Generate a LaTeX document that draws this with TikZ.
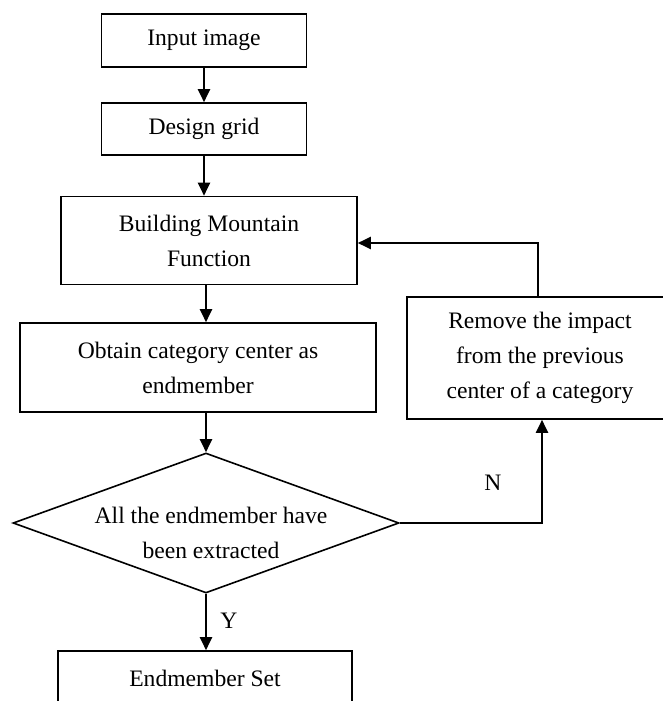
\documentclass[tikz,border=0pt]{standalone}
\usepackage{fontspec}
\setmainfont{Liberation Serif}
\usetikzlibrary{arrows.meta,shapes.geometric}
\begin{document}
\begin{tikzpicture}[x=0.5pt,y=-0.5pt,
  every node/.style={font=\fontsize{11.8pt}{17.5pt}\selectfont, inner sep=0pt},
  stepbox/.style={draw, line width=0.8pt, rectangle, align=center},
  decision/.style={draw, line width=0.8pt, diamond, minimum width=193pt, minimum height=70pt},
  arr/.style={line width=1pt, -{Triangle[length=6.5pt,width=6pt]}},
  lbl/.style={anchor=center}]
  \path[use as bounding box, clip] (0,0) rectangle (663,701);

  % process steps
  \node[stepbox, minimum width=102.5pt, minimum height=26.5pt] (in1) at (204,40.5) {Input image};
  \node[stepbox, minimum width=102.5pt, minimum height=26pt] (in2) at (204,129) {Design grid};
  \node[stepbox, minimum width=148pt, minimum height=44pt] (bmf) at (209,240.5) {Building Mountain\\Function};
  \node[stepbox, minimum width=178pt, minimum height=44.5pt] (obt) at (198,367.5) {Obtain category center as\\endmember};
  \node[decision] (dec) at (206,523) {};
  \node[lbl, align=center] (dect) at (211,533) {All the endmember have\\been extracted};
  \node[stepbox, minimum width=133pt, minimum height=61pt] (rem) at (540,358) {Remove the impact\\from the previous\\center of a category};
  \node[stepbox, minimum width=147pt, minimum height=27pt] (es) at (205,678) {Endmember Set};

  % loop-back corners
  \coordinate (nturn) at (542,523);
  \coordinate (rturn) at (538,243);

  % main flow
  \draw[arr] (in1.south) -- (in2.north);
  \draw[arr] (in2.south) -- (in2.south |- bmf.north);
  \draw[arr] (bmf.south -| dec.north) -- (obt.north -| dec.north);
  \draw[arr] (obt.south -| dec.north) -- (dec.north);
  \draw[arr] (dec.south) -- (es.north -| dec.south);

  % "no" branch and feedback
  \draw[arr] (dec.east) -- (nturn) -- (nturn |- rem.south);
  \draw[arr] (rem.north -| rturn) -- (rturn) -- (rturn -| bmf.east);

  % branch labels
  \node[lbl] (ylab) at (229,621) {Y};
  \node[lbl] (nlab) at (493,483) {N};
\end{tikzpicture}
\end{document}
